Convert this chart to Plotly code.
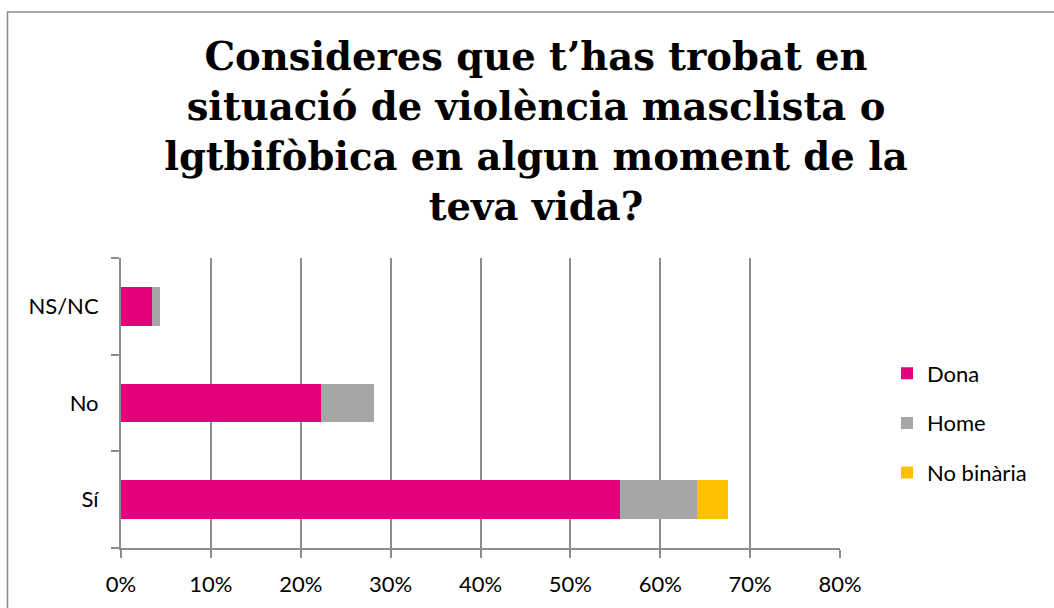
import plotly.graph_objects as go

# Survey answers (percentage of all respondents), bottom to top
categories = ["Sí", "No", "NS/NC"]
dona = [55.5, 22.2, 3.4]
home = [8.6, 6.0, 0.9]
no_binaria = [3.4, 0.0, 0.0]

x_ticks = [0, 10, 20, 30, 40, 50, 60, 70, 80]
x_tick_labels = [f"{v}%" for v in x_ticks]

series = [
    ("Dona", dona, "#E6007E"),
    ("Home", home, "#A6A6A6"),
    ("No binària", no_binaria, "#FFC000"),
]

GRID = "#8c8c8c"
FONT = "Lato"

fig = go.Figure()
for name, values, color in series:
    fig.add_trace(go.Bar(
        y=categories, x=values, name=name, orientation="h",
        marker=dict(color=color, line=dict(width=0)),
        legendgroup=name,
    ))

W, H = 1054, 608
L, R, T, B = 121, 214, 258, 60
pw, ph = W - L - R, H - T - B

fig.update_layout(
    width=W, height=H,
    barmode="stack", bargap=0.6,
    paper_bgcolor="white", plot_bgcolor="white",
    margin=dict(l=L, r=R, t=T, b=B, pad=0),
    font=dict(family=FONT, size=22, color="black"),
    title=dict(
        text="Consideres que t’has trobat en<br>situació de violència masclista o<br>"
             "lgtbifòbica en algun moment de la<br>teva vida?",
        font=dict(family="DejaVu Serif", size=38.5, color="black", weight="bold"),
        x=536 / W, xanchor="center", xref="container",
        y=1 - 70 / H, yanchor="top", yref="container",
    ),
    legend=dict(
        x=(887 - L) / pw, xanchor="left",
        y=(548 - 423) / ph, yanchor="middle",
        traceorder="grouped", tracegroupgap=18,
        font=dict(family=FONT, size=22),
        bgcolor="rgba(0,0,0,0)",
    ),
    xaxis=dict(
        range=[0, 80], tickmode="array", tickvals=x_ticks, ticktext=x_tick_labels,
        showgrid=True, gridcolor=GRID, gridwidth=2,
        zeroline=False, showline=True, linecolor=GRID, linewidth=2,
        ticks="outside", ticklen=8, tickcolor=GRID, tickwidth=2,
        ticklabelstandoff=8,
        tickfont=dict(family=FONT, size=22),
    ),
    yaxis=dict(
        showgrid=False, zeroline=False,
        showline=True, linecolor=GRID, linewidth=2,
        ticks="outside", ticklen=8, tickcolor=GRID, tickwidth=2,
        tickson="boundaries", ticklabelstandoff=16,
        tickfont=dict(family=FONT, size=22),
    ),
    shapes=[dict(
        type="rect", xref="paper", yref="paper",
        x0=(7.5 - L) / pw, x1=(W + 20 - L) / pw,
        y0=(548 - (H + 20)) / ph, y1=(548 - 12) / ph,
        line=dict(color="#8a8a8a", width=1.5), fillcolor="rgba(0,0,0,0)",
        layer="below",
    )],
)

fig.write_html("out.html")
